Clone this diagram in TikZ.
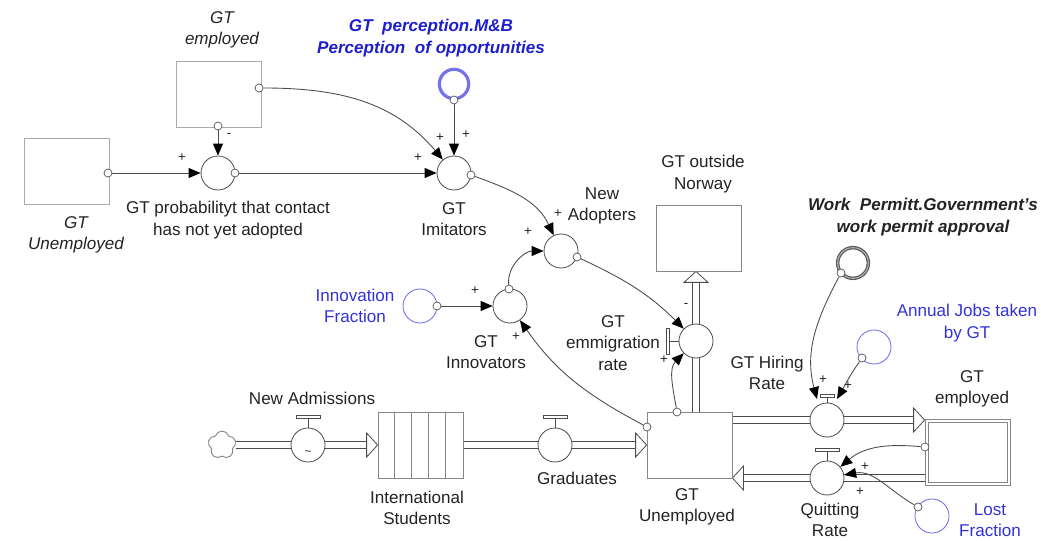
\documentclass[tikz,border=0pt]{standalone}
\usepackage{fontspec}
\setmainfont{Liberation Sans}
\usetikzlibrary{arrows.meta,calc,shapes.symbols}
\pgfdeclarelayer{bg}
\pgfsetlayers{bg,main}
\definecolor{txtblue}{RGB}{50,50,220}
\definecolor{percblue}{RGB}{30,30,205}
\definecolor{cblue}{RGB}{105,105,235}
\definecolor{ringblue}{RGB}{115,115,230}
\definecolor{linecol}{RGB}{75,75,75}
\definecolor{boxcol}{RGB}{135,135,135}
\definecolor{txtcol}{RGB}{35,35,35}
\newcommand\lblf{\fontsize{12.8}{16}\selectfont}
\tikzset{
  lbl/.style={font=\lblf, text=txtcol, align=center, inner sep=0pt},
  ilbl/.style={font=\lblf\itshape, text=txtcol, align=center, inner sep=0pt},
  blbl/.style={font=\lblf, text=txtblue, align=center, inner sep=0pt},
  bilbl/.style={font=\lblf\bfseries\itshape, align=center, inner sep=0pt},
  stock/.style={draw=boxcol, line width=0.6pt, minimum width=63.75pt, minimum height=49.5pt, inner sep=0pt},
  aux/.style={circle, draw=linecol, line width=0.6pt, fill=white, minimum size=25.5pt, inner sep=0pt},
  bcirc/.style={circle, draw=cblue, line width=0.6pt, minimum size=25.5pt, inner sep=0pt},
  dot/.style={circle, draw=linecol, fill=white, line width=0.5pt, minimum size=6pt, inner sep=0pt},
  link/.style={draw=linecol, line width=0.65pt, -{Triangle[length=9pt,width=7.5pt,color=black]}},
  pline/.style={draw=linecol, line width=0.6pt},
  head/.style={draw=linecol, line width=0.6pt, fill=white, line join=miter},
  handle/.style={draw=linecol, line width=0.6pt, fill=white},
  sgn/.style={font=\fontsize{10}{10}\selectfont, text=txtcol, inner sep=0pt},
}
\begin{document}
\begin{tikzpicture}[x=0.75pt,y=-0.75pt]
\useasboundingbox (0,0) rectangle (1041,541);

% ---------- stocks ----------
\node[stock, draw=boxcol!70] (empTop) at (218.5,94) {};
\node[stock, draw=boxcol!70] (unempL) at (66.5,171) {};
\node[stock] (outside) at (698.5,238) {};
\node[stock, fill=white] (unemp) at (689.5,445) {};
\node[stock, fill=white] (intl) at (420.5,445) {};
\foreach \i in {1,...,4}
  \draw[draw=boxcol, line width=0.6pt] ($(intl.north west)+(\i*17,0)$) -- ($(intl.south west)+(\i*17,0)$);
\node[stock, fill=white] (gtemp) at (967.5,452) {};
\draw[draw=boxcol, line width=0.6pt] ($(gtemp.north west)+(3.5,3.5)$) rectangle ($(gtemp.south east)+(-3.5,-3.5)$);
\node[cloud, cloud puffs=5, cloud puff arc=150, aspect=1, draw=boxcol, line width=0.7pt, fill=white, minimum width=21pt, minimum height=21pt, inner sep=0pt] (cloud) at (222,445) {};

% ---------- auxiliaries / constants ----------
\node[aux] (prob) at (218,173) {};
\node[aux] (imit) at (454,173) {};
\node[circle, draw=ringblue, line width=2.4pt, minimum size=22pt, inner sep=0pt] (perc) at (454,84) {};
\node[aux] (newad) at (561,251) {};
\node[aux] (innov) at (510,306) {};
\node[bcirc] (innovF) at (420,306) {};
\node[circle, draw=black!65, double=black!30, double distance=0.8pt, line width=0.9pt, minimum size=23pt, inner sep=0pt] (wp) at (853,263) {};
\node[bcirc] (aj) at (874,347) {};
\node[bcirc] (lf) at (932,516) {};

% ---------- valves ----------
\node[aux] (newadm) at (308,445) {};
\node[aux] (grad) at (555,445) {};
\node[aux] (emig) at (696,341) {};
\node[aux] (hire) at (827,420) {};
\node[aux] (quit) at (827,478) {};
\foreach \v in {newadm,grad,quit} {
  \draw[handle] (\v.north) -- ++(0,-9);
  \draw[handle] ($(\v.north)+(-12,-9)$) rectangle ($(\v.north)+(12,-12)$);
}
\draw[handle] (hire.north) -- ++(0,-5);
\draw[handle] ($(hire.north)+(-7,-5)$) rectangle ($(hire.north)+(7,-8)$);
\draw[handle] (emig.west) -- ++(-9,0);
\draw[handle] ($(emig.west)+(-9,-13)$) rectangle ($(emig.west)+(-12,13)$);
\node[font=\fontsize{9}{9}\selectfont, text=txtcol, inner sep=0pt] (tilde) at (308,453) {\textasciitilde};

% ---------- pipes (flows) ----------
\begin{pgfonlayer}{bg}
\draw[pline] ($(cloud.east)+(0,-3.5)$) -- ($(intl.west)+(-11,-3.5)$)
             ($(cloud.east)+(0,3.5)$) -- ($(intl.west)+(-11,3.5)$);
\draw[head] (intl.west) -- ++(-11,-12) -- ++(0,24) -- cycle;
\draw[pline] ($(intl.east)+(0,-3.5)$) -- ($(unemp.west)+(-11,-3.5)$)
             ($(intl.east)+(0,3.5)$) -- ($(unemp.west)+(-11,3.5)$);
\draw[head] (unemp.west) -- ++(-11,-12) -- ++(0,24) -- cycle;
\draw[pline] ($(hire -| unemp.east)+(0,-3.5)$) -- ($(hire -| gtemp.west)+(-11,-3.5)$)
             ($(hire -| unemp.east)+(0,3.5)$) -- ($(hire -| gtemp.west)+(-11,3.5)$);
\draw[head] (hire -| gtemp.west) -- ++(-11,-12) -- ++(0,24) -- cycle;
\draw[pline] ($(quit -| gtemp.west)+(0,-3.5)$) -- ($(quit -| unemp.east)+(11,-3.5)$)
             ($(quit -| gtemp.west)+(0,3.5)$) -- ($(quit -| unemp.east)+(11,3.5)$);
\draw[head] (quit -| unemp.east) -- ++(11,-12) -- ++(0,24) -- cycle;
\draw[pline] ($(emig |- unemp.north)+(-3.5,0)$) -- ($(emig |- outside.south)+(-3.5,11)$)
             ($(emig |- unemp.north)+(3.5,0)$) -- ($(emig |- outside.south)+(3.5,11)$);
\draw[head] (emig |- outside.south) -- ++(-12,11) -- ++(24,0) -- cycle;
\end{pgfonlayer}

% ---------- connector origins ----------
\node[dot] (dEmpR) at (259,88) {};
\node[dot] (dEmpB) at (218,126) {};
\node[dot] (dUnR) at (108,173) {};
\node[dot] (dProbR) at (235,173) {};
\node[dot] (dPerc) at (454,100) {};
\node[dot] (dImitR) at (471,175) {};
\node[dot] (dNewR) at (577,257) {};
\node[dot] (dInnT) at (509,289) {};
\node[dot] (dInnF) at (437,306) {};
\node[dot] (dUnL) at (647,427) {};
\node[dot] (dUnT) at (677,412) {};
\node[dot] (dWP) at (841,273) {};
\node[dot] (dAJ) at (862,358) {};
\node[dot] (dGE) at (925,447) {};
\node[dot] (dLF) at (918,507) {};
\coordinate (hireL) at (817,399);
\coordinate (hireR) at (837,399);

% ---------- connectors ----------
\draw[link] (dUnR) -- (prob);
\draw[link] (dEmpB) -- (prob);
\draw[link] (dProbR) -- (imit);
\draw[link] (dEmpR) to[out=0,in=130] (imit);
\draw[link] (dPerc) -- (imit);
\draw[link] (dImitR) to[out=-20,in=115] (newad);
\draw[link] (dInnT) to[out=95,in=180] (newad);
\draw[link] (dInnF) -- (innov);
\draw[link] (dUnL) to[out=152,in=-55] (innov);
\draw[link] (dNewR) to[out=-25,in=135] (emig);
\draw[link] (dUnT) to[out=100,in=-135] (emig);
\draw[link] (dWP) to[out=-118,in=105] (hireL);
\draw[link] (dAJ) to[out=-125,in=60] (hireR);
\draw[link] (dGE) to[out=175,in=40] (quit);
\draw[link] (dLF) to[out=150,in=10] (quit);

% ---------- polarity signs ----------
\node[sgn] (s1) at (182,158) {+};
\node[sgn] (s2) at (229,135) {-};
\node[sgn] (s3) at (418,158) {+};
\node[sgn] (s4) at (440,138) {+};
\node[sgn] (s5) at (466,135) {+};
\node[sgn] (s6) at (558,214) {+};
\node[sgn] (s7) at (528,232) {+};
\node[sgn] (s8) at (475,291) {+};
\node[sgn] (s9) at (516,337) {+};
\node[sgn] (s10) at (686,305) {-};
\node[sgn] (s11) at (664,360) {+};
\node[sgn] (s12) at (823,380) {+};
\node[sgn] (s13) at (848,386) {+};
\node[sgn] (s14) at (865,467) {+};
\node[sgn] (s15) at (860,492) {+};

% ---------- labels ----------
\node[ilbl] (lEmpTop) at (222,30) {GT\\employed};
\node[ilbl] (lUnempL) at (76,235) {GT\\Unemployed};
\node[lbl] (lProb) at (228,220) {GT probabilityt that contact\\has not yet adopted};
\node[bilbl, text=percblue] (lPerc) at (431,38) {GT~~perception.M\&B\\Perception~~of opportunities};
\node[lbl] (lImit) at (454,219) {GT\\Imitators};
\node[lbl] (lNew) at (602,206) {New\\Adopters};
\node[lbl] (lOut) at (703,174) {GT outside\\Norway};
\node[bilbl, text=txtcol] (lWP) at (923,217) {Work~~Permitt.Government's\\work permit approval};
\node[blbl] (lAJ) at (967,323) {Annual Jobs taken\\by GT};
\node[blbl] (lInnF) at (355,306) {Innovation\\Fraction};
\node[lbl] (lInnov) at (486,352) {GT\\Innovators};
\node[lbl] (lEmig) at (613,343) {GT\\emmigration\\rate};
\node[lbl] (lHire) at (767,373) {GT Hiring\\Rate};
\node[lbl] (lGtemp) at (972,389) {GT\\employed};
\node[lbl] (lNewadm) at (312,398) {New Admissions};
\node[lbl] (lIntl) at (417,508) {International\\Students};
\node[lbl] (lGrad) at (577,478) {Graduates};
\node[lbl] (lUnemp) at (687,507) {GT\\Unemployed};
\node[lbl] (lQuit) at (830,520) {Quitting\\Rate};
\node[blbl] (lLF) at (990,520) {Lost\\Fraction};
\end{tikzpicture}
\end{document}
